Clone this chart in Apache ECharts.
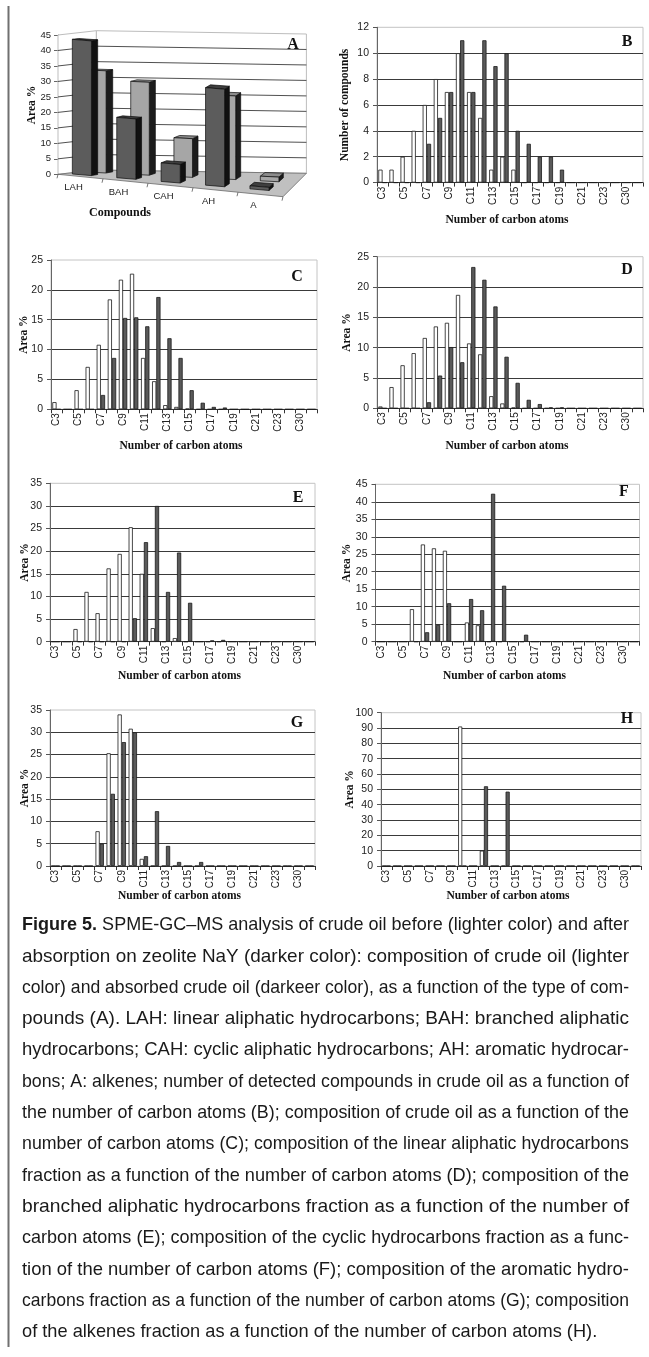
<!DOCTYPE html>
<html><head><meta charset="utf-8">
<script src="https://cdn.jsdelivr.net/npm/echarts@6/dist/echarts.min.js"></script>
<style>html,body{margin:0;padding:0;background:#fff}#c{width:649px;height:1357px}</style>
</head><body><div id="c"></div>
<script>
// ---------- DATA ----------
const compoundCats = ['LAH', 'BAH', 'CAH', 'AH', 'A'];
const compoundBefore = [33, 30, 12.5, 27, 1.5];     // crude oil (lighter, back row)
const compoundAfter  = [43.5, 19.5, 6, 31.5, 1];    // absorbed (darker, front row)
const areaTicksA = [0, 5, 10, 15, 20, 25, 30, 35, 40, 45];

const carbonCats = ['C3','C4','C5','C6','C7','C8','C9','C10','C11','C12','C13','C14','C15','C16','C17','C18','C19','C20','C21','C22','C23','C24','C30','C31'];

const countBefore = [1,1,2,4,6,8,7,10,7,5,1,2,1,0,0,0,0,0,0,0,0,0,0,0];
const countAfter  = [0,0,0,0,3,5,7,11,7,11,9,10,4,3,2,2,1,0,0,0,0,0,0,0];

const crudeBefore = [1.2,0,3.2,7.1,10.8,18.4,21.7,22.7,8.6,4.7,0.7,0.4,0.1,0,0,0,0,0,0,0,0,0,0,0];
const crudeAfter  = [0,0,0,0,2.4,8.6,15.3,15.4,13.9,18.8,11.9,8.6,3.2,1.1,0.4,0.3,0,0,0,0,0,0,0,0];

const linearBefore = [0.3,3.5,7.1,9.1,11.6,13.5,14.1,18.7,10.7,8.9,2.0,0.8,0.1,0,0,0,0,0,0,0,0,0,0,0];
const linearAfter  = [0,0,0,0,1.0,5.4,10.1,7.6,23.3,21.2,16.8,8.5,4.2,1.4,0.7,0.15,0.15,0,0,0,0,0,0,0];

const branchedBefore = [0,0,2.8,11.0,6.3,16.2,19.4,25.3,15.0,3.0,0,0.8,0,0,0,0,0,0,0,0,0,0,0,0];
const branchedAfter  = [0,0,0,0,0,0,0,5.2,22.0,30.0,11.0,19.7,8.6,0,0.3,0.4,0,0,0,0,0,0,0,0];

const cyclicBefore = [0,0,0,9.3,27.8,26.7,26.0,0,5.5,4.7,0,0,0,0,0,0,0,0,0,0,0,0,0,0];
const cyclicAfter  = [0,0,0,0,2.7,4.8,11.0,0,12.2,9.0,42.3,16.0,0,2.0,0,0,0,0,0,0,0,0,0,0];

const aromaticBefore = [0,0,0,0,7.8,25.3,34.0,30.8,1.6,0,0,0,0,0,0,0,0,0,0,0,0,0,0,0];
const aromaticAfter  = [0,0,0,0,5.0,16.2,27.8,30.0,2.2,12.3,4.5,0.9,0,0.9,0,0,0,0,0,0,0,0,0,0];

const alkeneBefore = [0,0,0,0,0,0,0,91,0,10,0,0,0,0,0,0,0,0,0,0,0,0,0,0];
const alkeneAfter  = [0,0,0,0,0,0,0,0,0,52,0,48.5,0,0,0,0,0,0,0,0,0,0,0,0];

const captionLines = [
  'SPME-GC\u2013MS analysis of crude oil before (lighter color) and after',
  'absorption on zeolite NaY (darker color): composition of crude oil (lighter',
  'color) and absorbed crude oil (darkeer color), as a function of the type of com-',
  'pounds (A). LAH: linear aliphatic hydrocarbons; BAH: branched aliphatic',
  'hydrocarbons; CAH: cyclic aliphatic hydrocarbons; AH: aromatic hydrocar-',
  'bons; A: alkenes; number of detected compounds in crude oil as a function of',
  'the number of carbon atoms (B); composition of crude oil as a function of the',
  'number of carbon atoms (C); composition of the linear aliphatic hydrocarbons',
  'fraction as a function of the number of carbon atoms (D); composition of the',
  'branched aliphatic hydrocarbons fraction as a function of the number of',
  'carbon atoms (E); composition of the cyclic hydrocarbons fraction as a func-',
  'tion of the number of carbon atoms (F); composition of the aromatic hydro-',
  'carbons fraction as a function of the number of carbon atoms (G); composition',
  'of the alkenes fraction as a function of the number of carbon atoms (H).'
];
const captionLead = 'Figure 5.';

// ---------- STYLE / LAYOUT ----------
const SANS = '"Liberation Sans", Arial, sans-serif';
const SERIF = '"Liberation Serif", "Times New Roman", serif';
const WHITE_BAR = {color:'#ffffff', borderColor:'#1a1a1a', borderWidth:0.8};
const DARK_BAR  = {color:'#5a5a5a', borderColor:'#1a1a1a', borderWidth:0.8};

const panels = [
  {id:'B', before:countBefore, after:countAfter, max:12, step:2, grid:{left:377, top:27.3, width:266, height:155.3}, yTitle:'Number of compounds', yTitleX:345, xTitleY:220, letter:[627, 42]},
  {id:'C', before:crudeBefore, after:crudeAfter, max:25, step:5, grid:{left:51, top:260, width:266, height:149.3}, yTitle:'Area %', yTitleX:24.5, xTitleY:446.5, letter:[297, 277]},
  {id:'D', before:linearBefore, after:linearAfter, max:25, step:5, grid:{left:377, top:256.7, width:266, height:151.6}, yTitle:'Area %', yTitleX:347, xTitleY:446, letter:[627, 270]},
  {id:'E', before:branchedBefore, after:branchedAfter, max:35, step:5, grid:{left:50, top:483.3, width:265, height:158.4}, yTitle:'Area %', yTitleX:25, xTitleY:676, letter:[298, 498]},
  {id:'F', before:cyclicBefore, after:cyclicAfter, max:45, step:5, grid:{left:375.5, top:484.3, width:264, height:157.4}, yTitle:'Area %', yTitleX:347, xTitleY:676, letter:[624, 492]},
  {id:'G', before:aromaticBefore, after:aromaticAfter, max:35, step:5, grid:{left:50, top:710, width:265, height:156}, yTitle:'Area %', yTitleX:25, xTitleY:896, letter:[297, 723]},
  {id:'H', before:alkeneBefore, after:alkeneAfter, max:100, step:10, grid:{left:381, top:712.7, width:260, height:153.3}, yTitle:'Area %', yTitleX:350, xTitleY:896, letter:[627, 719]}
];

// pseudo-3D projection constants for panel A (pixel offsets of the floor)
const FRONT_DROP = 22.4;          // front edge descends to the right
const DEPTH_L = [38.4, -4.3];     // depth vector at left side
const DEPTH_R = [23.4, -23.4];    // depth vector at right side
const NA = compoundCats.length;
const A_MAX = areaTicksA[areaTicksA.length - 1];

function proj(api, u, w, v) {
  const o = api.coord([0, 0]);
  const e = api.coord([NA, 0]);
  const t = u / NA;
  const fx = o[0] + (e[0] - o[0]) * t;
  const fy = o[1] + FRONT_DROP * t;
  const dx = DEPTH_L[0] + (DEPTH_R[0] - DEPTH_L[0]) * t;
  const dy = DEPTH_L[1] + (DEPTH_R[1] - DEPTH_L[1]) * t;
  const h = v ? api.size([0, v])[1] : 0;
  return [fx + w * dx, fy + w * dy - h];
}

function renderWalls(params, api) {
  const ch = [];
  const P = (u, w, v) => proj(api, u, w, v);
  ch.push({type:'polygon', shape:{points:[P(0,0,0),P(0,1,0),P(0,1,A_MAX),P(0,0,A_MAX)]}, style:{fill:'#fff', stroke:'#bdbdbd', lineWidth:1}});
  ch.push({type:'polygon', shape:{points:[P(0,1,0),P(NA,1,0),P(NA,1,A_MAX),P(0,1,A_MAX)]}, style:{fill:'#fff', stroke:'#bdbdbd', lineWidth:1}});
  areaTicksA.forEach(v => {
    if (v === 0 || v === A_MAX) return;
    ch.push({type:'polyline', shape:{points:[P(0,0,v),P(0,1,v),P(NA,1,v)]}, style:{stroke:'#3c3c3c', lineWidth:0.9, fill:null}});
  });
  ch.push({type:'polygon', shape:{points:[P(0,0,0),P(NA,0,0),P(NA,1,0),P(0,1,0)]}, style:{fill:'#c0c0c0', stroke:'#6a6a6a', lineWidth:0.8}});
  for (let k = 0; k <= NA; k++) {
    const p = P(k, 0, 0);
    ch.push({type:'line', shape:{x1:p[0], y1:p[1], x2:p[0]-1, y2:p[1]+4}, style:{stroke:'#555', lineWidth:0.8}});
  }
  return {type:'group', children:ch};
}

function boxRenderer(row) {
  return function (params, api) {
    const c = api.value(0), v = api.value(1);
    const u0 = c + 0.15, u1 = c + 0.58;
    const P = (u, w, val) => proj(api, u, w, val);
    const front = [P(u0,row.w0,0),P(u1,row.w0,0),P(u1,row.w0,v),P(u0,row.w0,v)];
    const side  = [P(u1,row.w0,0),P(u1,row.w1,0),P(u1,row.w1,v),P(u1,row.w0,v)];
    const top   = [P(u0,row.w0,v),P(u1,row.w0,v),P(u1,row.w1,v),P(u0,row.w1,v)];
    return {type:'group', children:[
      {type:'polygon', shape:{points:side}, style:{fill:row.side, stroke:'#0d0d0d', lineWidth:0.7}},
      {type:'polygon', shape:{points:top}, style:{fill:row.top, stroke:'#0d0d0d', lineWidth:0.7}},
      {type:'polygon', shape:{points:front}, style:{fill:row.front, stroke:'#0d0d0d', lineWidth:0.7}}
    ]};
  };
}

function renderCatLabel(params, api) {
  const c = api.value(0);
  const p = proj(api, c + 0.5, 0, 0);
  return {type:'text', x:p[0]-7, y:p[1]+11, style:{text:compoundCats[params.dataIndex], font:'9.5px ' + SANS, fill:'#222', align:'center', verticalAlign:'middle', textAlign:'center', textVerticalAlign:'middle'}};
}

// ---------- OPTION ----------
const grids = [{left:58, top:35, width:225, height:139.3, show:false}];
const xAxes = [{type:'value', gridIndex:0, min:0, max:NA, show:false}];
const yAxes = [{type:'value', gridIndex:0, min:0, max:A_MAX, interval:5,
  axisLine:{show:true, lineStyle:{color:'#8a8a8a', width:1}},
  axisTick:{show:true, length:4, lineStyle:{color:'#666'}},
  axisLabel:{fontSize:9.5, fontFamily:SANS, color:'#222', margin:7},
  splitLine:{show:false}}];
const series = [
  {type:'custom', coordinateSystem:'cartesian2d', xAxisIndex:0, yAxisIndex:0, data:[[0,0]], renderItem:renderWalls, z:1, silent:true, clip:false},
  {type:'custom', coordinateSystem:'cartesian2d', xAxisIndex:0, yAxisIndex:0, data:compoundBefore.map((v,i)=>[i,v]),
    renderItem:boxRenderer({w0:0.6, w1:0.78, front:'#a6a6a6', top:'#8c8c8c', side:'#1c1c1c'}), z:2, silent:true, clip:false},
  {type:'custom', coordinateSystem:'cartesian2d', xAxisIndex:0, yAxisIndex:0, data:compoundAfter.map((v,i)=>[i,v]),
    renderItem:boxRenderer({w0:0.2, w1:0.37, front:'#5c5c5c', top:'#3e3e3e', side:'#111111'}), z:3, silent:true, clip:false},
  {type:'custom', coordinateSystem:'cartesian2d', xAxisIndex:0, yAxisIndex:0, data:compoundCats.map((n,i)=>[i,0]), renderItem:renderCatLabel, z:4, silent:true, clip:false}
];

const graphics = [
  {type:'line', shape:{x1:8.5, y1:6, x2:8.5, y2:1347}, style:{stroke:'#707070', lineWidth:2}},
  {type:'text', x:31.7, y:105, rotation:Math.PI/2, style:{text:'Area %', font:'bold 11.5px ' + SERIF, fill:'#111', textAlign:'center', textVerticalAlign:'middle'}},
  {type:'text', x:120, y:213, style:{text:'Compounds', font:'bold 12px ' + SERIF, fill:'#111', textAlign:'center', textVerticalAlign:'middle'}},
  {type:'text', x:293, y:45, style:{text:'A', font:'bold 16px ' + SERIF, fill:'#111', textAlign:'center', textVerticalAlign:'middle'}}
];

panels.forEach((p, k) => {
  const gi = k + 1;
  grids.push(Object.assign({show:true, borderColor:'#c4c4c4', borderWidth:1, backgroundColor:'#fff'}, p.grid));
  xAxes.push({type:'category', gridIndex:gi, data:carbonCats,
    axisLine:{show:true, lineStyle:{color:'#333', width:1}},
    axisTick:{show:true, interval:0, length:4, lineStyle:{color:'#333'}},
    axisLabel:{interval:1, rotate:90, fontSize:10, fontFamily:SANS, color:'#222', margin:4},
    splitLine:{show:false}});
  yAxes.push({type:'value', gridIndex:gi, min:0, max:p.max, interval:p.step,
    axisLine:{show:true, lineStyle:{color:'#666', width:1}},
    axisTick:{show:true, length:4, lineStyle:{color:'#555'}},
    axisLabel:{fontSize:10.5, fontFamily:SANS, color:'#222', margin:8},
    splitLine:{show:true, showMaxLine:false, showMinLine:false, lineStyle:{color:'#3a3a3a', width:1}}});
  series.push({type:'bar', name:'before', xAxisIndex:gi, yAxisIndex:gi, data:p.before, itemStyle:WHITE_BAR, barGap:'0%', barCategoryGap:'24%', silent:true});
  series.push({type:'bar', name:'after', xAxisIndex:gi, yAxisIndex:gi, data:p.after, itemStyle:DARK_BAR, barGap:'0%', barCategoryGap:'24%', silent:true});
  const g = p.grid;
  graphics.push({type:'text', x:p.yTitleX, y:g.top + g.height/2, rotation:Math.PI/2, style:{text:p.yTitle, font:'bold 11.5px ' + SERIF, fill:'#111', textAlign:'center', textVerticalAlign:'middle'}});
  graphics.push({type:'text', x:g.left + g.width/2 - 3, y:p.xTitleY, style:{text:'Number of carbon atoms', font:'bold 11.5px ' + SERIF, fill:'#111', textAlign:'center', textVerticalAlign:'middle'}});
  graphics.push({type:'text', x:p.letter[0], y:p.letter[1], style:{text:p.id, font:'bold 16px ' + SERIF, fill:'#111', textAlign:'center', textVerticalAlign:'middle'}});
});

// caption, justified by horizontal scaling of each line
(function () {
  const ctx = document.createElement('canvas').getContext('2d');
  const REG = '19px ' + SANS, BOLD = 'bold 19px ' + SANS;
  const meas = (t, f) => { ctx.font = f; return ctx.measureText(t).width; };
  const X0 = 22, W = 607, Y0 = 925, LH = 31.3;
  const scales = [];
  captionLines.forEach((line, i) => {
    let nat = meas(line, REG);
    if (i === 0) nat += meas(captionLead + ' ', BOLD);
    scales.push(W / nat);
  });
  const avg = scales.slice(0, -1).reduce((a, b) => a + b, 0) / (scales.length - 1);
  captionLines.forEach((line, i) => {
    const s = i === captionLines.length - 1 ? avg : scales[i];
    const text = i === 0 ? '{b|' + captionLead + '} ' + line : line;
    graphics.push({type:'text', x:X0, y:Y0 + i*LH, scaleX:s, scaleY:1, originX:0, originY:0,
      style:{text:text, font:REG, fill:'#1a1a1a', textAlign:'left', textVerticalAlign:'middle',
        rich:{b:{font:BOLD, fill:'#1a1a1a'}}}});
  });
})();

graphics.forEach(g => { g.z = 100; g.silent = true; });

const chart = echarts.init(document.getElementById('c'), null, {renderer:'canvas', width:649, height:1357});
chart.setOption({
  animation:false,
  backgroundColor:'#fff',
  grid:grids, xAxis:xAxes, yAxis:yAxes, series:series,
  graphic:{elements:graphics}
});
</script></body></html>
